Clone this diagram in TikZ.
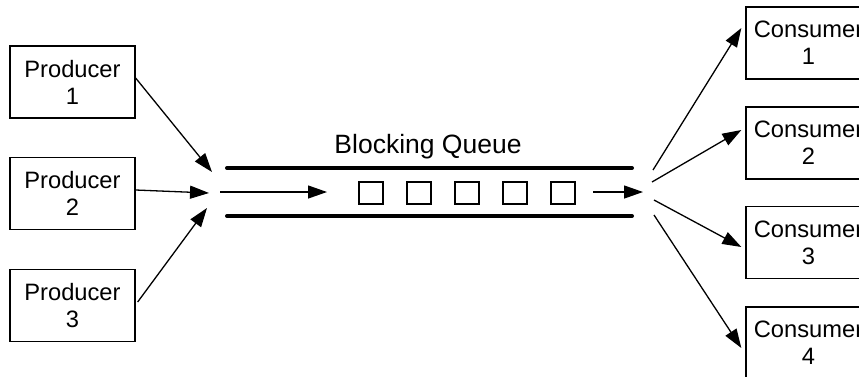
\documentclass[tikz,border=0pt]{standalone}
\usepackage{fontspec}
\setmainfont{Liberation Sans}
\usetikzlibrary{arrows.meta,calc}
\begin{document}
\begin{tikzpicture}[x=1pt,y=-1pt,
  box/.style={draw, line width=1.3pt, minimum width=125pt, minimum height=72pt,
    align=center, inner sep=0pt, font=\fontsize{23.7}{27}\selectfont},
  flow/.style={line width=1.3pt, -{Triangle[length=19pt,width=13pt]}},
  rail/.style={line width=4pt, line cap=round},
  slot/.style={draw, line width=1.4pt, minimum width=24pt, minimum height=22pt, inner sep=0pt}]
\useasboundingbox (0,0) rectangle (859,376);
\clip (0,0) rectangle (859,376);
\fill[white] (0,0) rectangle (859,376);
% producers
\node[box] (p1) at (72.5,82) {Producer\\1};
\node[box] (p2) at (72.5,193.5) {Producer\\2};
\node[box] (p3) at (72.5,305.5) {Producer\\3};
% consumers
\node[box] (c1) at (808.5,43) {Consumer\\1};
\node[box] (c2) at (808.5,143) {Consumer\\2};
\node[box] (c3) at (808.5,242.5) {Consumer\\3};
\node[box] (c4) at (808.5,343) {Consumer\\4};
% junction points
\coordinate (e1) at (212,172);
\coordinate (e2) at (209,193);
\coordinate (e3) at (207,208);
\coordinate (s1) at (653,170);
\coordinate (s2) at (652,182);
\coordinate (s3) at (654,200);
\coordinate (s4) at (654,215);
% queue
\coordinate (ta) at (227,168);
\coordinate (tb) at (632,168);
\coordinate (ba) at (227,216);
\coordinate (bb) at (632,216);
\draw[rail] (ta) -- (tb);
\draw[rail] (ba) -- (bb);
\node[font=\fontsize{26.5}{30}\selectfont, anchor=base] (lbl) at (428,153) {Blocking Queue};
\coordinate (ia) at (220,192);
\coordinate (ib) at (327,192);
\coordinate (oa) at (593,192);
\coordinate (ob) at (643,192);
\draw[flow] (ia) -- (ib);
\draw[flow] (oa) -- (ob);
\foreach \i/\x in {1/371,2/419,3/467,4/515,5/563}
  \node[slot] (q\i) at (\x,193) {};
% producer arrows
\draw[flow] ($(p1.east)+(0,-4)$) -- (e1);
\draw[flow] ($(p2.east)+(0,-3.5)$) -- (e2);
\draw[flow] ($(p3.east)+(2,-3.5)$) -- (e3);
% consumer arrows
\draw[flow] (s1) -- ($(c1.west)+(-4,-15)$);
\draw[flow] (s2) -- ($(c2.west)+(-4,-13)$);
\draw[flow] (s3) -- ($(c3.west)+(-4,4.5)$);
\draw[flow] (s4) -- ($(c4.west)+(-4,5)$);
\end{tikzpicture}
\end{document}
